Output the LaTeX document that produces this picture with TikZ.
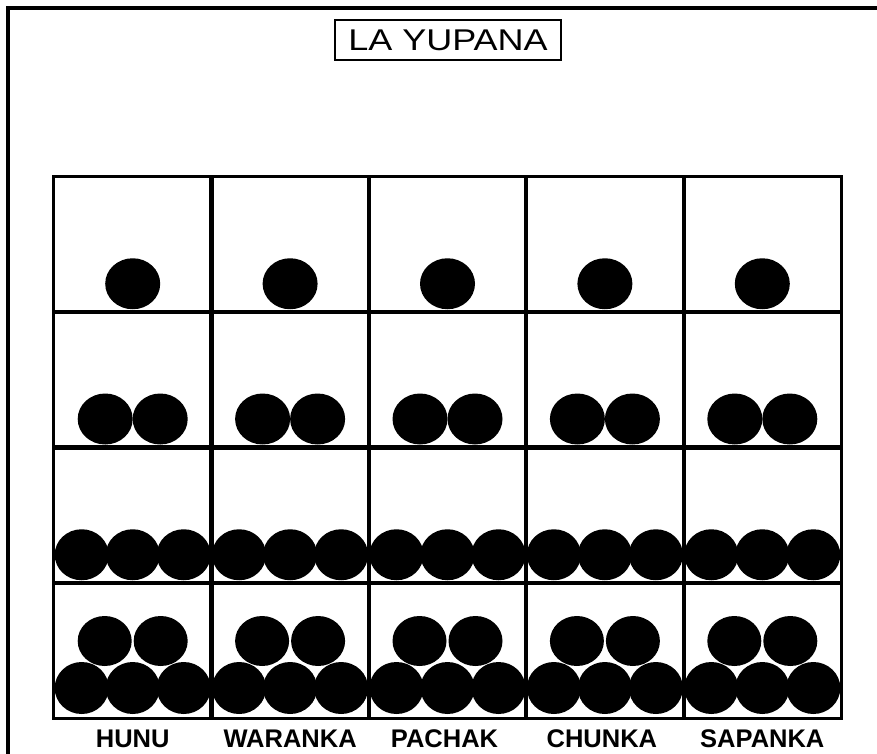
\documentclass[tikz,border=0pt]{standalone}
\usepackage{fontspec}
\setmainfont{Liberation Sans}
\usepackage{graphicx}
\begin{document}
\begin{tikzpicture}[x=1pt,y=-1pt,
  frameline/.style={line width=3.5pt},
  gridline/.style={line width=2.1pt},
  titlebox/.style={draw,line width=1.3pt,minimum width=226pt,minimum height=40pt,inner sep=0pt},
  colname/.style={font=\fontsize{25.5}{25.5}\selectfont\bfseries,anchor=base},
  bead/.style={fill=black}]
\useasboundingbox (0,0) rectangle (877,754);
\fill[white] (0,0) rectangle (877,754);
% outer frame (left and top)
\coordinate (fbl) at (8,754);
\coordinate (ftl) at (8,8);
\coordinate (ftr) at (877,8);
\draw[frameline] (fbl) -- (ftl) -- (ftr);
% title
\node[titlebox] (title) at (448,40) {\fontsize{30}{30}\selectfont\scalebox{1.2}[1]{LA YUPANA}};
% grid
\def\gx{54}\def\gw{157.4}\def\gy{177}\def\gh{135.25}
\foreach \c in {0,...,4}{
  \foreach \r in {0,...,3}{
    \node[draw,gridline,minimum width=\gw pt,minimum height=\gh pt,inner sep=0pt]
      (cell-\r-\c) at ({\gx+\gw*(\c+0.5)},{\gy+\gh*(\r+0.5)}) {};
  }
}
% beads
\foreach \c in {0,...,4}{
  \pgfmathsetmacro{\cx}{\gx+\gw*(\c+0.5)}
  % row 1
  \fill[bead] (\cx,{\gy+\gh*1-28.5}) ellipse [x radius=27.5pt, y radius=25.5pt];
  % row 2
  \foreach \d in {-27.5,27.5}{
    \fill[bead] ({\cx+\d},{\gy+\gh*2-28.5}) ellipse [x radius=27.5pt, y radius=25.5pt];
  }
  % row 3
  \foreach \d in {-51,0,51}{
    \fill[bead] ({\cx+\d},{\gy+\gh*3-28}) ellipse [x radius=27pt, y radius=25.5pt];
  }
  % row 4
  \foreach \d in {-28,28}{
    \fill[bead] ({\cx+\d},{\gy+\gh*4-77}) ellipse [x radius=27pt, y radius=25pt];
  }
  \foreach \d in {-51,0,51}{
    \fill[bead] ({\cx+\d},{\gy+\gh*4-30}) ellipse [x radius=27pt, y radius=26pt];
  }
}
% redraw grid lines on top
\foreach \c in {0,...,4}{
  \foreach \r in {0,...,3}{
    \draw[gridline] (cell-\r-\c.north west) rectangle (cell-\r-\c.south east);
  }
}
% column names
\node[colname] (n0) at ({\gx+\gw*0.5},747) {HUNU};
\node[colname] (n1) at ({\gx+\gw*1.5},747) {WARANKA};
\node[colname] (n2) at ({\gx+\gw*2.5-3},747) {PACHAK};
\node[colname] (n3) at ({\gx+\gw*3.5-3},747) {CHUNKA};
\node[colname] (n4) at ({\gx+\gw*4.5},747) {SAPANKA};
\end{tikzpicture}
\end{document}
